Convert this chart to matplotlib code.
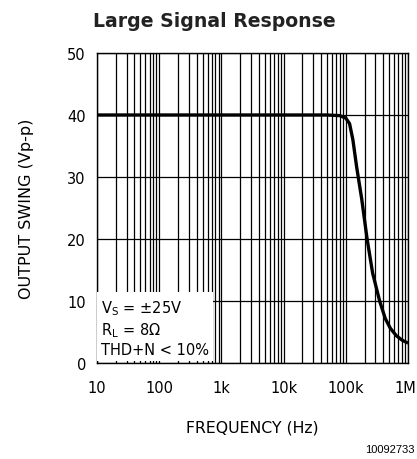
import matplotlib
matplotlib.use("Agg")
import matplotlib.pyplot as plt
from matplotlib.ticker import FixedLocator, NullFormatter
from matplotlib.transforms import ScaledTranslation

freq = [10, 100, 1e3, 1e4, 5e4, 8e4, 1e5, 1.15e5, 1.3e5, 1.5e5, 1.8e5, 2.2e5,
        2.7e5, 3.5e5, 4.3e5, 5.2e5, 6.5e5, 8e5, 1e6]
swing = [40, 40, 40, 40, 40, 39.9, 39.5, 38.6, 36, 31.5, 26.5, 20,
         14.5, 10, 7.2, 5.6, 4.4, 3.7, 3.2]

x_ticks = [10, 100, 1e3, 1e4, 1e5, 1e6]
x_labels = ["10", "100", "1k", "10k", "100k", "1M"]
y_ticks = [0, 10, 20, 30, 40, 50]

plt.rcParams['font.family'] = ['DejaVu Sans']

fig = plt.figure(figsize=(4.17, 4.6), dpi=100)
ax = fig.add_axes([97/417, 1-364/460, 311/417, 310/460])

ax.set_xscale('log')
ax.set_xlim(10, 1e6)
ax.set_ylim(0, 50)

minors = [m * 10**d for d in range(1, 6) for m in range(2, 10)]
for f in x_ticks + minors:
    ax.axvline(f, color='black', lw=0.9, zorder=1)
for v in y_ticks:
    ax.axhline(v, color='black', lw=0.9, zorder=1)

ax.plot(freq, swing, color='black', lw=2.4, solid_capstyle='butt', zorder=4)

ax.xaxis.set_major_locator(FixedLocator(x_ticks))
ax.set_xticklabels(x_labels)
ax.xaxis.set_minor_formatter(NullFormatter())
ax.set_yticks(y_ticks)
ax.tick_params(which='both', length=0, labelsize=10.5)
ax.tick_params(axis='x', pad=12)
ax.tick_params(axis='y', pad=8)
for s in ax.spines.values():
    s.set_linewidth(1.0)

# keep "1M" inside the canvas
last = ax.get_xticklabels()[-1]
last.set_transform(last.get_transform() + ScaledTranslation(-3/100, 0, fig.dpi_scale_trans))

# conditions box in lower left
ax.text(0.013, 0.02, "V$_\\mathregular{S}$ = \u00b125V\nR$_\\mathregular{L}$ = 8\u03a9\nTHD+N < 10%",
        transform=ax.transAxes, fontsize=10.5, va='bottom', ha='left',
        linespacing=1.25, zorder=5,
        bbox=dict(facecolor='white', edgecolor='none', pad=3))

ax.set_xlabel("FREQUENCY (Hz)", fontsize=11.3, labelpad=18)
ax.set_ylabel("OUTPUT SWING (Vp-p)", fontsize=11.5, labelpad=24)

fig.text(0.513, 0.954, "Large Signal Response", ha='center', va='center',
         fontsize=13.6, fontweight='bold', color='#222222')
fig.text(0.995, 0.022, "10092733", ha='right', va='center', fontsize=8,
         family='Liberation Sans')

fig.savefig("out.png", dpi=100)
